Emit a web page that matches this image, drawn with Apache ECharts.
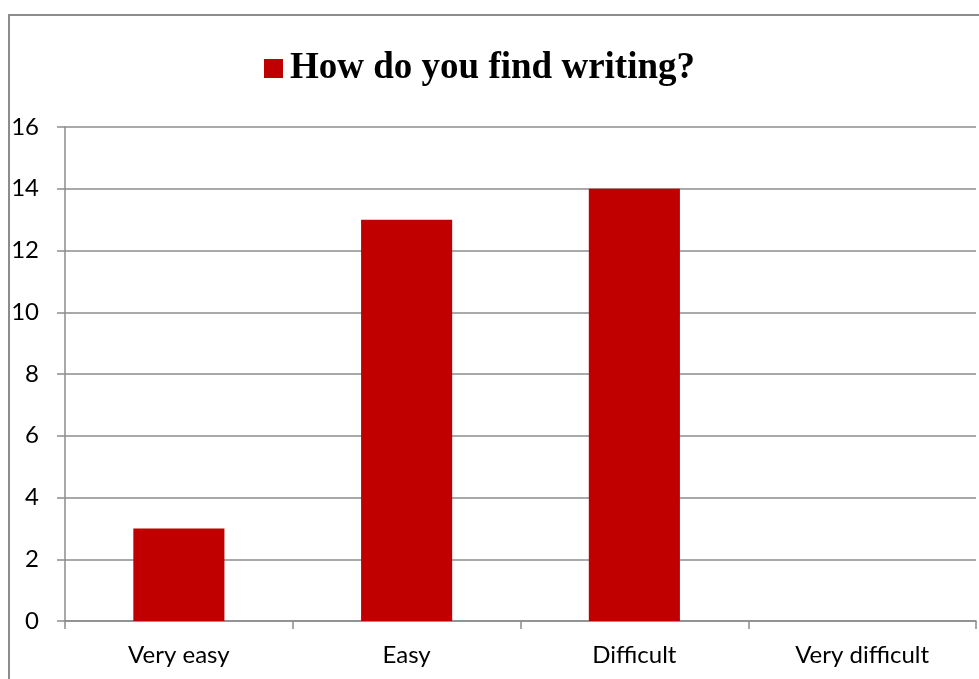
<!DOCTYPE html>
<html>
<head>
<meta charset="utf-8">
<script src="https://cdn.jsdelivr.net/npm/echarts@6/dist/echarts.min.js"></script>
<style>
  html, body { margin: 0; padding: 0; background: #fff; }
  #chart { width: 979px; height: 679px; }
</style>
</head>
<body>
<div id="chart"></div>
<script>
// Survey answers: how pupils rate writing
const categories = ['Very easy', 'Easy', 'Difficult', 'Very difficult'];
const counts = [3, 13, 14, 0];
const seriesName = 'How do you find writing?';
const yTicks = { min: 0, max: 16, interval: 2 };

const chart = echarts.init(document.getElementById('chart'), null, { renderer: 'canvas' });

chart.setOption({
  backgroundColor: '#ffffff',
  animation: false,
  graphic: [{
    type: 'rect',
    shape: { x: 9, y: 15, width: 1000, height: 700 },
    style: { fill: 'none', stroke: '#8c8c8c', lineWidth: 2 },
    silent: true,
    z: -1
  }],
  legend: {
    data: [seriesName],
    top: 50,
    left: 264,
    padding: 0,
    icon: 'rect',
    itemWidth: 19,
    itemHeight: 19,
    itemGap: 6,
    textStyle: {
      fontFamily: '"Liberation Serif", "Times New Roman", serif',
      fontWeight: 'bold',
      fontSize: 37,
      color: '#000',
      padding: [0, 0, 0, 2]
    }
  },
  grid: { left: 65, right: 3, top: 127, bottom: 58, containLabel: false },
  xAxis: {
    type: 'category',
    data: categories,
    axisLine: { lineStyle: { color: '#8c8c8c', width: 1.5 } },
    axisTick: { show: true, length: 8, lineStyle: { color: '#8c8c8c', width: 1.5 } },
    axisLabel: {
      margin: 22,
      fontFamily: 'Lato, "Open Sans", sans-serif',
      fontSize: 24,
      color: '#000'
    }
  },
  yAxis: {
    type: 'value',
    min: yTicks.min,
    max: yTicks.max,
    interval: yTicks.interval,
    axisLine: { show: true, lineStyle: { color: '#8c8c8c', width: 1.5 } },
    axisTick: { show: true, length: 8, lineStyle: { color: '#8c8c8c', width: 1.5 } },
    splitLine: { lineStyle: { color: '#8c8c8c', width: 1.5 } },
    axisLabel: {
      margin: 26,
      fontFamily: 'Lato, "Open Sans", sans-serif',
      fontSize: 24,
      color: '#000'
    }
  },
  series: [{
    name: seriesName,
    type: 'bar',
    data: counts,
    barWidth: '40%',
    itemStyle: { color: '#c00000' }
  }]
});
</script>
</body>
</html>
